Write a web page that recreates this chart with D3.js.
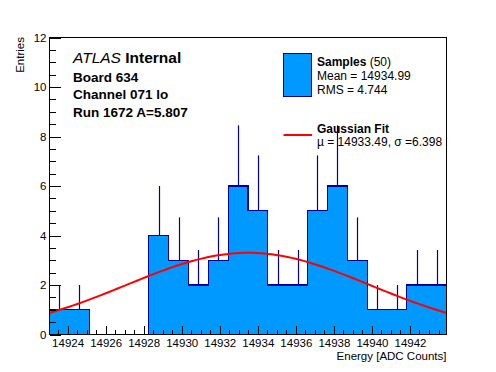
<!DOCTYPE html>
<html>
<head>
<meta charset="utf-8">
<script src="https://cdn.jsdelivr.net/npm/d3@7.9.0/dist/d3.min.js"></script>
<style>
  body { margin: 0; background: #fff; }
  svg { display: block; font-family: "Liberation Sans", Arial, Helvetica, sans-serif; }
  .axis text { font-size: 11.5px; fill: #000; }
  .axis line { stroke: #000; }
</style>
</head>
<body>
<svg id="chart" width="496" height="372"></svg>
<script>
// histogram: 20 equal bins between xMin and xMax
const xMin = 14923.05;
const xMax = 14943.92;
const binCounts = [1, 1, 0, 0, 0, 4, 3, 2, 3, 6, 5, 2, 2, 5, 6, 3, 1, 1, 2, 2];
const xTicks = [14924, 14926, 14928, 14930, 14932, 14934, 14936, 14938, 14940, 14942];
const yTicks = [0, 2, 4, 6, 8, 10, 12];

// gaussian fit parameters
const fitMean = 14933.49;
const fitSigma = 6.398;
const fitAmp = 3.3;

const infoLines = ['Board 634', 'Channel 071 lo', 'Run 1672 A=5.807'];

const frame = { left: 49.5, right: 446.5, top: 37.5, bottom: 334.5 };
const fillColor = '#0099ff';
const lineColor = '#000099';

const svg = d3.select('#chart');

let x = d3.scaleLinear().domain([xMin, xMax]).range([frame.left, frame.right]);
let y = d3.scaleLinear().domain([0, 12]).range([frame.bottom, frame.top]);

let binWidth = (xMax - xMin) / binCounts.length;
let bins = binCounts.map((c, i) => ({ x0: xMin + i * binWidth, x1: xMin + (i + 1) * binWidth, n: c }));
let steps = bins.map((b) => [b.x0, b.n]).concat([[xMax, bins[bins.length - 1].n]]);

let area = d3.area()
  .x((d) => x(d[0]))
  .y0(y(0))
  .y1((d) => y(d[1]))
  .curve(d3.curveStepAfter);

svg.append('path')
  .attr('d', area(steps))
  .attr('fill', fillColor);

let outline = d3.line()
  .x((d) => x(d[0]))
  .y((d) => y(d[1]))
  .curve(d3.curveStepAfter);

svg.append('path')
  .attr('d', outline([[xMin, 0]].concat(steps, [[xMax, 0]])))
  .attr('fill', 'none')
  .attr('stroke', lineColor)
  .attr('stroke-width', 1.2)
  .attr('shape-rendering', 'crispEdges');

// upper half of the poisson error bars
svg.append('g')
  .selectAll('line')
  .data(bins.filter((b) => b.n > 0))
  .join('line')
  .attr('x1', (b) => Math.round(x((b.x0 + b.x1) / 2)) + 0.5)
  .attr('x2', (b) => Math.round(x((b.x0 + b.x1) / 2)) + 0.5)
  .attr('y1', (b) => y(b.n))
  .attr('y2', (b) => y(b.n + Math.sqrt(b.n)))
  .attr('stroke', lineColor)
  .attr('stroke-width', 1.2);

// fit curve
let gauss = (v) => fitAmp * Math.exp(-((v - fitMean) ** 2) / (2 * fitSigma * fitSigma));
let curveX = d3.range(0, 101).map((i) => xMin + (xMax - xMin) * i / 100);

svg.append('path')
  .attr('d', d3.line().x((v) => x(v)).y((v) => y(gauss(v)))(curveX))
  .attr('fill', 'none')
  .attr('stroke', '#ff0000')
  .attr('stroke-width', 2);

// axes, ticks pointing into the frame
let xMinor = d3.range(14923.5, xMax, 0.5);
let yMinor = d3.range(0, 12.01, 0.5);

svg.append('g')
  .attr('class', 'axis')
  .attr('transform', `translate(0,${frame.bottom})`)
  .call(d3.axisBottom(x).tickValues(xMinor).tickSizeInner(-4.5).tickSizeOuter(0).tickFormat(''))
  .call((g) => g.select('.domain').remove());

svg.append('g')
  .attr('class', 'axis')
  .attr('transform', `translate(0,${frame.bottom})`)
  .call(d3.axisBottom(x).tickValues(xTicks).tickSizeInner(-8.9).tickSizeOuter(0).tickPadding(4).tickFormat(d3.format('d')))
  .call((g) => g.select('.domain').remove());

svg.append('g')
  .attr('class', 'axis')
  .attr('transform', `translate(${frame.left},0)`)
  .call(d3.axisLeft(y).tickValues(yMinor).tickSizeInner(-6).tickSizeOuter(0).tickFormat(''))
  .call((g) => g.select('.domain').remove());

svg.append('g')
  .attr('class', 'axis')
  .attr('transform', `translate(${frame.left},0)`)
  .call(d3.axisLeft(y).tickValues(yTicks).tickSizeInner(-11.9).tickSizeOuter(0).tickPadding(3))
  .call((g) => g.select('.domain').remove());

svg.selectAll('.axis line').attr('shape-rendering', 'crispEdges');

svg.append('rect')
  .attr('x', frame.left)
  .attr('y', frame.top)
  .attr('width', frame.right - frame.left)
  .attr('height', frame.bottom - frame.top)
  .attr('fill', 'none')
  .attr('stroke', '#000')
  .attr('stroke-width', 1.2)
  .attr('shape-rendering', 'crispEdges');

// axis titles
svg.append('text')
  .attr('x', frame.right)
  .attr('y', 359.5)
  .attr('text-anchor', 'end')
  .attr('font-size', 11.5)
  .text('Energy [ADC Counts]');

svg.append('text')
  .attr('transform', `translate(23.5,${frame.top - 0.5}) rotate(-90)`)
  .attr('text-anchor', 'end')
  .attr('font-size', 11.5)
  .text('Entries');

// label block
let label = svg.append('text')
  .attr('x', 73)
  .attr('y', 63)
  .attr('font-size', 15.5);
label.append('tspan').attr('font-style', 'italic').text('ATLAS');
label.append('tspan').attr('font-weight', 'bold').text(' Internal');

svg.append('g')
  .selectAll('text')
  .data(infoLines)
  .join('text')
  .attr('x', 73)
  .attr('y', (d, i) => 81.5 + i * 17.8)
  .attr('font-size', 13.5)
  .attr('font-weight', 'bold')
  .text((d) => d);

// legend
let legend = svg.append('g').attr('font-size', 12);

legend.append('rect')
  .attr('x', 283.5)
  .attr('y', 53.5)
  .attr('width', 28)
  .attr('height', 43)
  .attr('fill', fillColor)
  .attr('stroke', lineColor)
  .attr('shape-rendering', 'crispEdges');

let samples = legend.append('text').attr('x', 317).attr('y', 66);
samples.append('tspan').attr('font-weight', 'bold').text('Samples');
samples.append('tspan').text(' (50)');

legend.append('text').attr('x', 317).attr('y', 80).text('Mean = 14934.99');
legend.append('text').attr('x', 317).attr('y', 93.5).text('RMS = 4.744');

legend.append('line')
  .attr('x1', 283.5)
  .attr('x2', 312)
  .attr('y1', 135)
  .attr('y2', 135)
  .attr('stroke', '#ff0000')
  .attr('stroke-width', 2);

legend.append('text').attr('x', 317).attr('y', 133).attr('font-weight', 'bold').text('Gaussian Fit');
legend.append('text').attr('x', 317).attr('y', 146).text('\u00b5 = 14933.49, \u03c3 =6.398');
</script>
</body>
</html>
